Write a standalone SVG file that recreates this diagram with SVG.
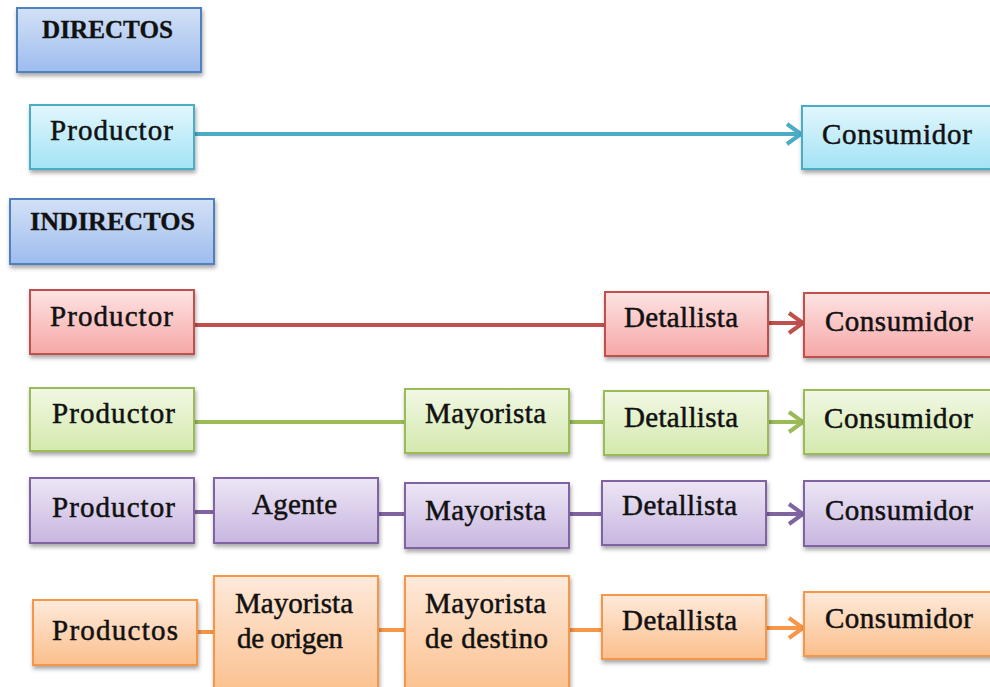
<svg xmlns="http://www.w3.org/2000/svg" width="990" height="687" viewBox="0 0 990 687">
<defs>
<linearGradient id="gBlue" x1="0" y1="0" x2="0" y2="1"><stop offset="0" stop-color="#d3e1f6"/><stop offset="1" stop-color="#9ebcef"/></linearGradient>
<linearGradient id="gCyan" x1="0" y1="0" x2="0" y2="1"><stop offset="0" stop-color="#e2f6fc"/><stop offset="1" stop-color="#a3e3f6"/></linearGradient>
<linearGradient id="gRed" x1="0" y1="0" x2="0" y2="1"><stop offset="0" stop-color="#fde3e3"/><stop offset="1" stop-color="#f5a8a6"/></linearGradient>
<linearGradient id="gGreen" x1="0" y1="0" x2="0" y2="1"><stop offset="0" stop-color="#f1f8e4"/><stop offset="1" stop-color="#d4e9ad"/></linearGradient>
<linearGradient id="gPurple" x1="0" y1="0" x2="0" y2="1"><stop offset="0" stop-color="#ede6f5"/><stop offset="1" stop-color="#c8b6e0"/></linearGradient>
<linearGradient id="gOrange" x1="0" y1="0" x2="0" y2="1"><stop offset="0" stop-color="#feeadb"/><stop offset="1" stop-color="#fbbf8c"/></linearGradient>
<filter id="sh" x="-10%" y="-10%" width="130%" height="140%"><feDropShadow dx="1" dy="3" stdDeviation="2" flood-color="#000" flood-opacity="0.35"/></filter>
<marker id="aCyan" markerUnits="userSpaceOnUse" viewBox="0 0 20 24" refX="18" refY="12" markerWidth="20" markerHeight="24" orient="auto"><polyline points="4,2 18,12 4,22" fill="none" stroke="#4bacc6" stroke-width="4"/></marker>
<marker id="aRed" markerUnits="userSpaceOnUse" viewBox="0 0 20 24" refX="18" refY="12" markerWidth="20" markerHeight="24" orient="auto"><polyline points="4,2 18,12 4,22" fill="none" stroke="#c0504d" stroke-width="4"/></marker>
<marker id="aGreen" markerUnits="userSpaceOnUse" viewBox="0 0 20 24" refX="18" refY="12" markerWidth="20" markerHeight="24" orient="auto"><polyline points="4,2 18,12 4,22" fill="none" stroke="#9bbb59" stroke-width="4"/></marker>
<marker id="aPurple" markerUnits="userSpaceOnUse" viewBox="0 0 20 24" refX="18" refY="12" markerWidth="20" markerHeight="24" orient="auto"><polyline points="4,2 18,12 4,22" fill="none" stroke="#8064a2" stroke-width="4"/></marker>
<marker id="aOrange" markerUnits="userSpaceOnUse" viewBox="0 0 20 24" refX="18" refY="12" markerWidth="20" markerHeight="24" orient="auto"><polyline points="4,2 18,12 4,22" fill="none" stroke="#f79646" stroke-width="4"/></marker>
</defs>
<style>
rect{stroke-width:2;filter:url(#sh)}
.blue{fill:url(#gBlue);stroke:#4f81bd}
.cyan{fill:url(#gCyan);stroke:#4bacc6}
.red{fill:url(#gRed);stroke:#c0504d}
.green{fill:url(#gGreen);stroke:#9bbb59}
.purple{fill:url(#gPurple);stroke:#8064a2}
.orange{fill:url(#gOrange);stroke:#f79646}
text{font-family:"Liberation Serif","Times New Roman",serif;font-size:29px;fill:#111;stroke:#111;stroke-width:0.5}
.h{font-weight:bold;font-size:25px;stroke-width:0.3}
line{stroke-width:4;fill:none}
</style>
<rect width="990" height="687" fill="#fff" style="filter:none;stroke:none"/>
<g id="connectors">
<line x1="194" y1="134" x2="801" y2="134" stroke="#4bacc6" marker-end="url(#aCyan)"/>
<line x1="194" y1="325" x2="605" y2="325" stroke="#c0504d"/>
<line x1="768" y1="323" x2="803" y2="323" stroke="#c0504d" marker-end="url(#aRed)"/>
<line x1="194" y1="422" x2="405" y2="422" stroke="#9bbb59"/>
<line x1="569" y1="422" x2="604" y2="422" stroke="#9bbb59"/>
<line x1="768" y1="422" x2="803" y2="422" stroke="#9bbb59" marker-end="url(#aGreen)"/>
<line x1="194" y1="512" x2="214" y2="512" stroke="#8064a2"/>
<line x1="378" y1="514" x2="405" y2="514" stroke="#8064a2"/>
<line x1="569" y1="514" x2="602" y2="514" stroke="#8064a2"/>
<line x1="766" y1="514" x2="803" y2="514" stroke="#8064a2" marker-end="url(#aPurple)"/>
<line x1="197" y1="632" x2="214" y2="632" stroke="#f79646"/>
<line x1="378" y1="630" x2="405" y2="630" stroke="#f79646"/>
<line x1="569" y1="630" x2="602" y2="630" stroke="#f79646"/>
<line x1="766" y1="628" x2="803" y2="628" stroke="#f79646" marker-end="url(#aOrange)"/>
</g>
<g id="directos"><rect class="blue" x="17" y="8" width="184" height="64"/><text class="h" x="42" y="38" textLength="131" lengthAdjust="spacingAndGlyphs">DIRECTOS</text></g>
<g id="d-productor"><rect class="cyan" x="30" y="105" width="164" height="64"/><text x="50" y="140" textLength="123" lengthAdjust="spacing">Productor</text></g>
<g id="d-consumidor"><rect class="cyan" x="802" y="106" width="200" height="63"/><text x="822" y="144" textLength="150" lengthAdjust="spacing">Consumidor</text></g>
<g id="indirectos"><rect class="blue" x="10" y="199" width="204" height="65"/><text class="h" x="30" y="230" textLength="165" lengthAdjust="spacingAndGlyphs">INDIRECTOS</text></g>
<g id="r-productor"><rect class="red" x="30" y="290" width="164" height="64"/><text x="50" y="326" textLength="123" lengthAdjust="spacing">Productor</text></g>
<g id="r-detallista"><rect class="red" x="605" y="292" width="163" height="64"/><text x="624" y="327" textLength="114" lengthAdjust="spacing">Detallista</text></g>
<g id="r-consumidor"><rect class="red" x="804" y="293" width="200" height="64"/><text x="825" y="331" textLength="148" lengthAdjust="spacing">Consumidor</text></g>
<g id="g-productor"><rect class="green" x="30" y="388" width="164" height="63"/><text x="52" y="423" textLength="123" lengthAdjust="spacing">Productor</text></g>
<g id="g-mayorista"><rect class="green" x="405" y="389" width="164" height="64"/><text x="425" y="423" textLength="121" lengthAdjust="spacing">Mayorista</text></g>
<g id="g-detallista"><rect class="green" x="604" y="391" width="164" height="64"/><text x="624" y="427" textLength="114" lengthAdjust="spacing">Detallista</text></g>
<g id="g-consumidor"><rect class="green" x="804" y="390" width="200" height="64"/><text x="824" y="428" textLength="149" lengthAdjust="spacing">Consumidor</text></g>
<g id="p-productor"><rect class="purple" x="30" y="478" width="164" height="65"/><text x="52" y="517" textLength="123" lengthAdjust="spacing">Productor</text></g>
<g id="p-agente"><rect class="purple" x="214" y="478" width="164" height="65"/><text x="252" y="514" textLength="85" lengthAdjust="spacing">Agente</text></g>
<g id="p-mayorista"><rect class="purple" x="405" y="483" width="164" height="65"/><text x="425" y="520" textLength="121" lengthAdjust="spacing">Mayorista</text></g>
<g id="p-detallista"><rect class="purple" x="602" y="481" width="164" height="64"/><text x="622" y="515" textLength="115" lengthAdjust="spacing">Detallista</text></g>
<g id="p-consumidor"><rect class="purple" x="804" y="481" width="200" height="65"/><text x="825" y="520" textLength="148" lengthAdjust="spacing">Consumidor</text></g>
<g id="o-productos"><rect class="orange" x="33" y="600" width="164" height="65"/><text x="52" y="640" textLength="126" lengthAdjust="spacing">Productos</text></g>
<g id="o-mayorista-origen"><rect class="orange" x="214" y="576" width="164" height="120"/><text x="235" y="613" textLength="118" lengthAdjust="spacing">Mayorista</text><text x="237" y="648" textLength="106" lengthAdjust="spacing">de origen</text></g>
<g id="o-mayorista-destino"><rect class="orange" x="405" y="576" width="164" height="120"/><text x="425" y="613" textLength="121" lengthAdjust="spacing">Mayorista</text><text x="425" y="648" textLength="123" lengthAdjust="spacing">de destino</text></g>
<g id="o-detallista"><rect class="orange" x="602" y="595" width="164" height="64"/><text x="622" y="630" textLength="115" lengthAdjust="spacing">Detallista</text></g>
<g id="o-consumidor"><rect class="orange" x="804" y="592" width="200" height="64"/><text x="825" y="628" textLength="148" lengthAdjust="spacing">Consumidor</text></g>
</svg>
